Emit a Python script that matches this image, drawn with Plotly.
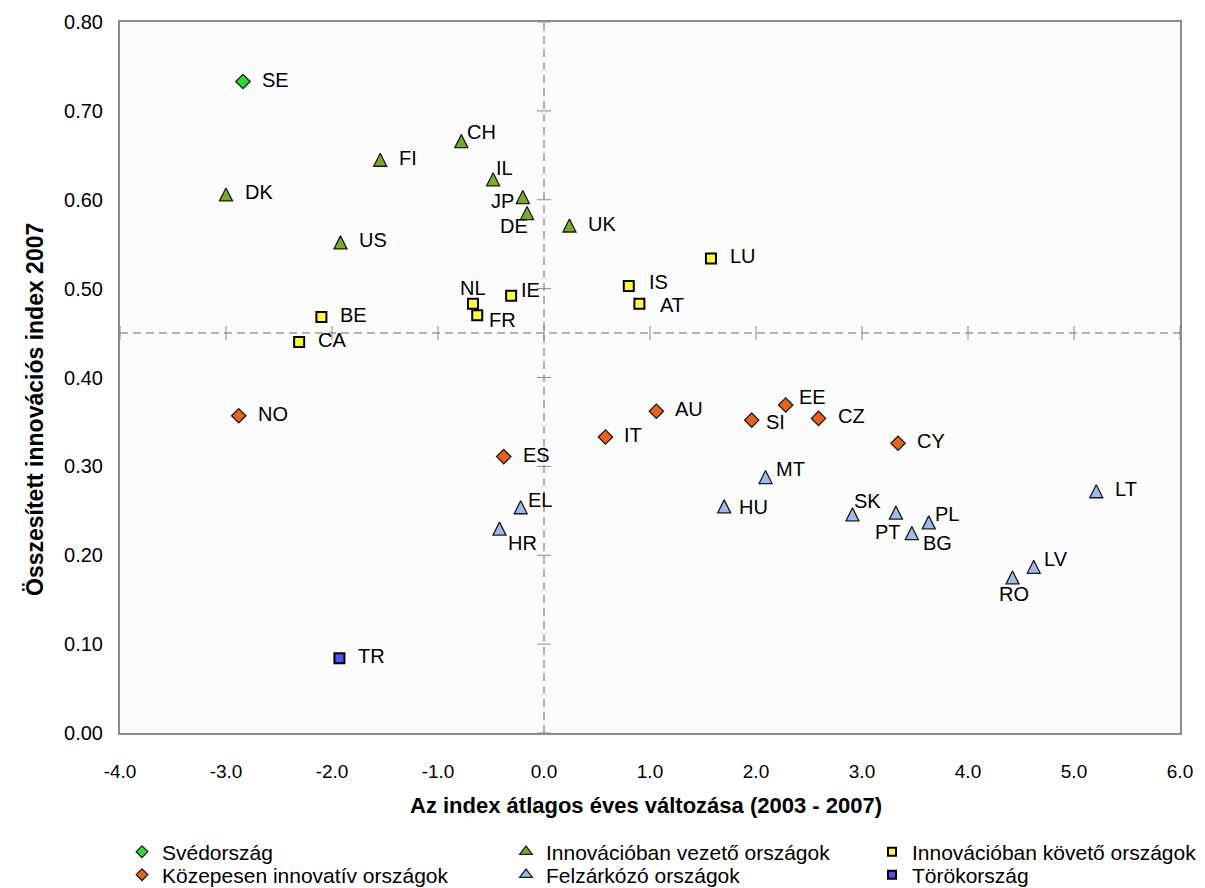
import plotly.graph_objects as go

# ---------------- data ----------------
se_codes = ["SE"]
se_x = [-2.84]
se_y = [0.733]

lead_codes = ["DK", "FI", "CH", "IL", "JP", "DE", "UK", "US"]
lead_x = [-3.00, -1.545, -0.78, -0.48, -0.20, -0.16, 0.24, -1.92]
lead_y = [0.606, 0.645, 0.666, 0.623, 0.603, 0.585, 0.571, 0.552]

foll_codes = ["LU", "IS", "AT", "IE", "NL", "FR", "BE", "CA"]
foll_x = [1.575, 0.80, 0.90, -0.31, -0.67, -0.63, -2.10, -2.31]
foll_y = [0.534, 0.503, 0.483, 0.492, 0.483, 0.470, 0.468, 0.440]

mod_codes = ["NO", "AU", "EE", "SI", "CZ", "IT", "CY", "ES"]
mod_x = [-2.88, 1.06, 2.28, 1.96, 2.59, 0.58, 3.34, -0.38]
mod_y = [0.357, 0.362, 0.369, 0.352, 0.354, 0.333, 0.326, 0.311]

catch_codes = ["MT", "HU", "SK", "PT", "BG", "PL", "LT", "LV", "RO", "EL", "HR"]
catch_x = [2.09, 1.70, 2.91, 3.32, 3.47, 3.63, 5.21, 4.62, 4.42, -0.22, -0.42]
catch_y = [0.288, 0.255, 0.246, 0.248, 0.225, 0.237, 0.272, 0.187, 0.175, 0.254, 0.230]

tr_codes = ["TR"]
tr_x = [-1.93]
tr_y = [0.084]

group_names = [
    "Svédország",
    "Innovációban vezető országok",
    "Innovációban követő országok",
    "Közepesen innovatív országok",
    "Felzárkózó országok",
    "Törökország",
]

x_ticks = [-4, -3, -2, -1, 0, 1, 2, 3, 4, 5, 6]
y_ticks = [0.0, 0.1, 0.2, 0.3, 0.4, 0.5, 0.6, 0.7, 0.8]
cross_x = 0.0    # where the vertical (dashed) axis crosses
cross_y = 0.45   # where the horizontal (dashed) axis crosses

x_title = "Az index átlagos éves változása (2003 - 2007)"
y_title = "Összesített innovációs index 2007"

# ---------------- styles / layout ----------------
FONT = "Liberation Sans, Arial, sans-serif"

OFF = 8                      # page body margin of the browser
W, H = 1205 - OFF, 888 - OFF
ML, MR, MT, MB = 120 - OFF, 25, 22 - OFF, 155
PW, PH = W - ML - MR, H - MT - MB


def px_x(p):
    """page pixel -> paper x"""
    return (p - OFF - ML) / PW


def px_y(p):
    """page pixel -> paper y"""
    return (H - MB - (p - OFF)) / PH


# label placement: (xanchor, dx px, dy px downward)
label_pos = {
    "CH": ("left", 7, -9), "IL": ("left", 4, -11), "JP": ("right", -10, 4),
    "DE": ("center", -13, 13), "NL": ("center", 0, -16), "FR": ("left", 13, 5),
    "IE": ("left", 11, -6), "EE": ("left", 14, -8), "SI": ("left", 15, 2),
    "MT": ("left", 11, -8), "HU": ("left", 16, 1), "SK": ("left", 3, -13),
    "PT": ("right", 4, 19), "BG": ("left", 12, 10), "PL": ("left", 7, -8),
    "LV": ("left", 11, -8), "RO": ("center", 1, 17), "EL": ("left", 8, -7),
    "HR": ("left", 10, 14), "IS": ("left", 21, -4), "AT": ("left", 22, 1),
}
default_pos = ("left", 20, -2)

tri = 13
tri_style = dict(symbol="arrow-down", angle=180, size=tri, standoff=tri / 2)
dark = dict(color="#1a1a1a", width=1.3)
black2 = dict(color="#000000", width=2)
groups = [
    (se_codes, se_x, se_y, dict(symbol="diamond", size=11, color="#2EDC2E", line=dark),
     dict(symbol="diamond", size=9, color="#2EDC2E", line=dark)),
    (lead_codes, lead_x, lead_y, dict(**tri_style, color="#7DAA26", line=dark),
     dict(symbol="triangle-up", size=11, color="#7DAA26", line=dark)),
    (foll_codes, foll_x, foll_y, dict(symbol="square", size=10, color="#FFFF33", line=black2),
     dict(symbol="square", size=8, color="#FFFF33", line=black2)),
    (mod_codes, mod_x, mod_y, dict(symbol="diamond", size=11, color="#EA621A", line=dark),
     dict(symbol="diamond", size=9, color="#EA621A", line=dark)),
    (catch_codes, catch_x, catch_y, dict(**tri_style, color="#9BBBEC", line=dark),
     dict(symbol="triangle-up", size=11, color="#9BBBEC", line=dark)),
    (tr_codes, tr_x, tr_y, dict(symbol="square", size=10, color="#4F4FFA", line=black2),
     dict(symbol="square", size=8, color="#4F4FFA", line=black2)),
]
# legend entry placement (page px of symbol centre)
legend_px = [(142, 852), (526, 852), (892, 852), (142, 875), (526, 875), (892, 875)]

fig = go.Figure()

# tick marks on the crossing axes
fig.add_trace(go.Scatter(
    x=[cross_x] * len(y_ticks), y=y_ticks, mode="markers",
    marker=dict(symbol="line-ew", size=10, line=dict(color="#8a8a8a", width=1)),
    showlegend=False, hoverinfo="skip"))
fig.add_trace(go.Scatter(
    x=x_ticks, y=[cross_y] * len(x_ticks), mode="markers",
    marker=dict(symbol="line-ns", size=10, line=dict(color="#8a8a8a", width=1)),
    showlegend=False, hoverinfo="skip"))

legend_layouts = {}
for i, (name, (codes, xs, ys, mk, lmk)) in enumerate(zip(group_names, groups)):
    lname = "legend" if i == 0 else f"legend{i + 1}"
    fig.add_trace(go.Scatter(x=xs, y=ys, mode="markers", name=name, marker=mk,
                             legendgroup=name, showlegend=False, text=codes,
                             hovertemplate="%{text}: %{x}, %{y}<extra></extra>"))
    fig.add_trace(go.Scatter(x=[None], y=[None], mode="markers", name=name, marker=lmk,
                             legendgroup=name, legend=lname, showlegend=True, hoverinfo="skip"))
    sx, sy = legend_px[i]
    legend_layouts[lname] = dict(
        x=px_x(sx - 20), xanchor="left", y=px_y(sy), yanchor="middle",
        bgcolor="rgba(0,0,0,0)", borderwidth=0,
        font=dict(family=FONT, size=21, color="#000"))
    for c, xv, yv in zip(codes, xs, ys):
        anc, dx, dy = label_pos.get(c, default_pos)
        shift = dx - 3 if anc == "left" else (dx + 3 if anc == "right" else dx)
        fig.add_annotation(x=xv, y=yv, text=c, showarrow=False, xanchor=anc, yanchor="middle",
                           xshift=shift, yshift=-dy, font=dict(family=FONT, size=20, color="#000"))

# dashed crossing axes
fig.add_shape(type="line", x0=x_ticks[0], x1=x_ticks[-1], y0=cross_y, y1=cross_y,
              line=dict(color="#9a9a9a", width=1.5, dash="8px,5px"), layer="below")
fig.add_shape(type="line", x0=cross_x, x1=cross_x, y0=y_ticks[0], y1=y_ticks[-1],
              line=dict(color="#9a9a9a", width=1.5, dash="8px,5px"), layer="below")

# axis titles
fig.add_annotation(xref="paper", yref="paper", x=px_x(646), y=px_y(805), text=x_title,
                   showarrow=False, xanchor="center", yanchor="middle",
                   font=dict(family=FONT, size=22, color="#000", weight="bold"))
fig.add_annotation(xref="paper", yref="paper", x=px_x(35), y=px_y(410), text=y_title,
                   showarrow=False, textangle=-90, xanchor="center", yanchor="middle",
                   font=dict(family=FONT, size=23, color="#000", weight="bold"))

fig.update_xaxes(range=[x_ticks[0], x_ticks[-1]], tickvals=x_ticks,
                 ticktext=[f"{v:.1f}" for v in x_ticks],
                 showgrid=False, zeroline=False, showline=True, mirror=True,
                 linecolor="#8c8c8c", linewidth=2, ticks="outside", ticklen=20,
                 tickcolor="rgba(0,0,0,0)", tickfont=dict(family=FONT, size=19, color="#000"))
fig.update_yaxes(range=[y_ticks[0], y_ticks[-1]], tickvals=y_ticks,
                 ticktext=[f"{v:.2f}" for v in y_ticks],
                 showgrid=False, zeroline=False, showline=True, mirror=True,
                 linecolor="#8c8c8c", linewidth=2, ticks="outside", ticklen=11,
                 tickcolor="rgba(0,0,0,0)", tickfont=dict(family=FONT, size=20, color="#000"))

fig.update_layout(
    width=W, height=H,
    margin=dict(l=ML, r=MR, t=MT, b=MB, autoexpand=False),
    paper_bgcolor="#ffffff", plot_bgcolor="#fcfcfc",
    showlegend=True,
    **legend_layouts,
)

fig.write_html("out.html")
